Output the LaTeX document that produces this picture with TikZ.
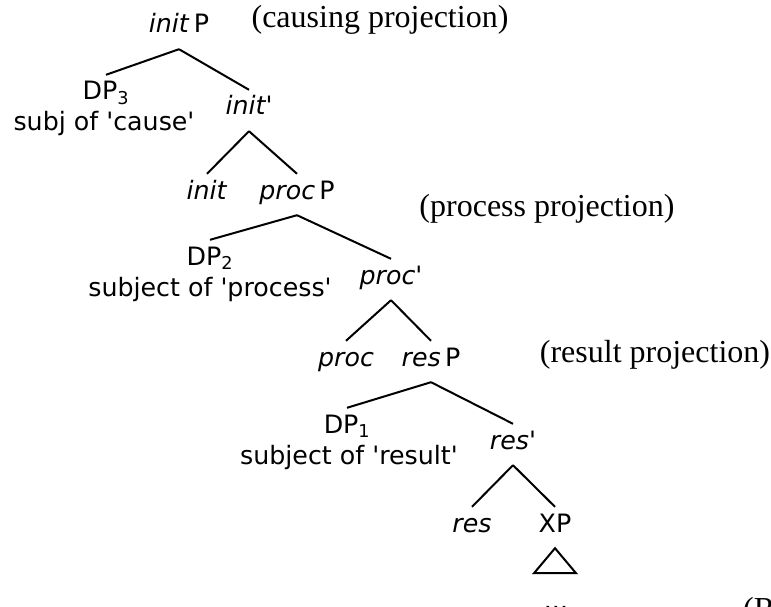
\documentclass[tikz,border=0pt]{standalone}
\usepackage{fontspec}
\setmainfont{Liberation Serif}
\newfontfamily\treefont{DejaVu Sans}
\tikzset{
	cat/.style={anchor=base, inner sep=7pt, text height=18pt, text depth=9pt, font=\treefont\fontsize{25.3}{30}\selectfont},
	gloss/.style={anchor=base, inner sep=0pt, font=\treefont\fontsize{25.3}{30}\selectfont},
	proj/.style={anchor=base, inner sep=0pt, font=\fontsize{32}{38}\selectfont},
	branch/.style={line width=2pt}
}
\begin{document}
\begin{tikzpicture}[x=1pt,y=-1pt]
	\useasboundingbox (0,0) rectangle (771,607);
	% causing projection
	\node (initP) at (179,33) [cat] {\textit{init}\,P};
	\node (dp3) at (106,100) [cat] {DP\textsubscript{3}};
	\node (dp3gloss) at (104,131) [gloss] {subj of 'cause'};
	\node (initbar) at (249,115) [cat] {\textit{init'}};
	\node (init) at (207,199) [cat] {\textit{init}};
	\node (procP) at (297,199) [cat] {\textit{proc}\,P};
	% process projection
	\node (dp2) at (210,265) [cat] {DP\textsubscript{2}};
	\node (dp2gloss) at (210,296) [gloss] {subject of 'process'};
	\node (procbar) at (391,284) [cat] {\textit{proc'}};
	\node (proc) at (346,366) [cat] {\textit{proc}};
	\node (resP) at (431,366) [cat] {\textit{res}\,P};
	% result projection
	\node (dp1) at (347,433) [cat] {DP\textsubscript{1}};
	\node (dp1gloss) at (349,464) [gloss] {subject of 'result'};
	\node (resbar) at (513,449) [cat] {\textit{res'}};
	\node (res) at (472,532) [cat] {\textit{res}};
	\node (xp) at (555,532) [cat] {XP};
	\node (dots) at (556,609) [gloss] {...};
	% side notes
	\node (causing) at (380,28) [proj] {(causing projection)};
	\node (process) at (547,216) [proj] {(process projection)};
	\node (result) at (655,362) [proj] {(result projection)};
	\node (source) at (743,619) [proj, anchor=base west] {(R};
	% branches
	\draw[branch] (initP.south) -- (dp3.north);
	\draw[branch] (initP.south) -- (initbar.north);
	\draw[branch] (initbar.south) -- (init.north);
	\draw[branch] (initbar.south) -- (procP.north);
	\draw[branch] (procP.south) -- (dp2.north);
	\draw[branch] (procP.south) -- (procbar.north);
	\draw[branch] (procbar.south) -- (proc.north);
	\draw[branch] (procbar.south) -- (resP.north);
	\draw[branch] (resP.south) -- (dp1.north);
	\draw[branch] (resP.south) -- (resbar.north);
	\draw[branch] (resbar.south) -- (res.north);
	\draw[branch] (resbar.south) -- (xp.north);
	\draw[branch, line join=miter] (xp.south) -- ++(-21,25) -- ++(42,0) -- cycle;
\end{tikzpicture}
\end{document}
